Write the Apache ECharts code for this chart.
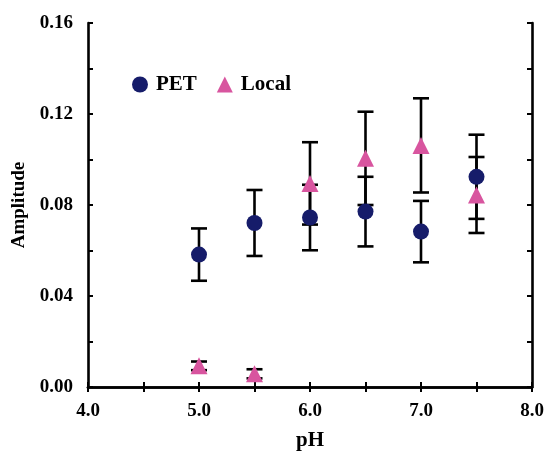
<!DOCTYPE html>
<html>
<head>
<meta charset="utf-8">
<script src="https://cdn.jsdelivr.net/npm/echarts@6/dist/echarts.min.js"></script>
<style>html,body{margin:0;padding:0;background:#fff}#c{width:548px;height:452px}</style>
</head>
<body>
<div id="c"></div>
<script>
var ph = [5.0, 5.5, 6.0, 6.5, 7.0, 7.5];
var petMean = [0.0582, 0.0721, 0.0745, 0.0771, 0.0683, 0.0924];
var petErr = [0.0115, 0.0145, 0.0144, 0.0153, 0.0135, 0.0185];
var localMean = [0.0093, 0.0058, 0.0895, 0.1005, 0.1062, 0.0844];
var localErr = [0.0019, 0.0020, 0.0181, 0.0205, 0.0207, 0.0167];
var xTicks = ['4.0', '5.0', '6.0', '7.0', '8.0'];
var yTicks = ['0.00', '0.04', '0.08', '0.12', '0.16'];

var FONT = '"Liberation Serif", "DejaVu Serif", serif';
var NAVY = '#161c6a';
var PINK = '#d8559f';

function errData(mean, err) {
  return ph.map(function (x, i) { return [x, mean[i] - err[i], mean[i] + err[i]]; });
}
function renderErr(params, api) {
  var x = api.value(0);
  var lo = api.coord([x, api.value(1)]);
  var hi = api.coord([x, api.value(2)]);
  var hw = 8;
  var st = { stroke: '#000', lineWidth: 2.6, fill: null };
  return {
    type: 'group',
    children: [
      { type: 'line', shape: { x1: lo[0], y1: lo[1], x2: hi[0], y2: hi[1] }, style: st },
      { type: 'line', shape: { x1: lo[0] - hw, y1: lo[1], x2: lo[0] + hw, y2: lo[1] }, style: st },
      { type: 'line', shape: { x1: hi[0] - hw, y1: hi[1], x2: hi[0] + hw, y2: hi[1] }, style: st }
    ]
  };
}
function pts(mean) { return ph.map(function (x, i) { return [x, mean[i]]; }); }

var xLabelFmt = function (v) {
  var s = v.toFixed(1);
  return xTicks.indexOf(s) >= 0 ? '{a|' + s + '}' : '';
};
var yLabelFmt = function (v) {
  var s = v.toFixed(2);
  return yTicks.indexOf(s) >= 0 ? '{a|' + s + '}' : '';
};
var richLbl = { a: { fontFamily: FONT, fontWeight: 'bold', fontSize: 19, color: '#000' } };

var axisLineStyle = { show: true, lineStyle: { color: '#000', width: 2.6 } };
var tickStyle = { show: true, inside: true, length: 5, lineStyle: { color: '#000', width: 2 } };

var chart = echarts.init(document.getElementById('c'), null, { renderer: 'canvas' });
chart.setOption({
  animation: false,
  backgroundColor: '#fff',
  grid: { left: 88, right: 16, top: 23, bottom: 65, outerBoundsMode: 'none', containLabel: false },
  legend: {
    left: 127, top: 69,
    itemWidth: 16, itemHeight: 16, itemGap: 20,
    textStyle: { fontFamily: FONT, fontWeight: 'bold', fontSize: 21, color: '#000', padding: [0, 0, 0, 3] },
    data: [
      { name: 'PET', icon: 'circle' },
      { name: 'Local', icon: 'triangle' }
    ]
  },
  xAxis: [
    {
      type: 'value', min: 4, max: 8, interval: 0.5, position: 'bottom',
      name: 'pH', nameLocation: 'middle', nameGap: 43,
      nameTextStyle: { fontFamily: FONT, fontWeight: 'bold', fontSize: 21, color: '#000' },
      axisLine: axisLineStyle, axisTick: tickStyle,
      axisLabel: { margin: 15, formatter: xLabelFmt, rich: richLbl, showMaxLabel: true, showMinLabel: true, fontSize: 19, fontWeight: 'bold', fontFamily: FONT, color: '#000' },
      splitLine: { show: false }
    },
    {
      type: 'value', min: 4, max: 8, interval: 0.5, position: 'top',
      axisLine: axisLineStyle, axisTick: tickStyle, axisLabel: { show: false }, splitLine: { show: false }
    }
  ],
  yAxis: [
    {
      type: 'value', min: 0, max: 0.16, interval: 0.02, position: 'left',
      name: 'Amplitude', nameLocation: 'middle', nameGap: 59, nameRotate: 90,
      nameTextStyle: { fontFamily: FONT, fontWeight: 'bold', fontSize: 19, color: '#000' },
      axisLine: axisLineStyle, axisTick: tickStyle,
      axisLabel: { margin: 15, formatter: yLabelFmt, rich: richLbl, fontSize: 19, fontWeight: 'bold', fontFamily: FONT, color: '#000' },
      splitLine: { show: false }
    },
    {
      type: 'value', min: 0, max: 0.16, interval: 0.02, position: 'right',
      axisLine: axisLineStyle, axisTick: tickStyle, axisLabel: { show: false }, splitLine: { show: false }
    }
  ],
  series: [
    { type: 'custom', name: 'petErr', renderItem: renderErr, data: errData(petMean, petErr), z: 2, encode: { x: 0, y: [1, 2] }, silent: true },
    { type: 'custom', name: 'localErr', renderItem: renderErr, data: errData(localMean, localErr), z: 2, encode: { x: 0, y: [1, 2] }, silent: true },
    { type: 'scatter', name: 'PET', data: pts(petMean), symbol: 'circle', symbolSize: 16, itemStyle: { color: NAVY, opacity: 1 }, z: 5 },
    { type: 'scatter', name: 'Local', data: pts(localMean), symbol: 'triangle', symbolSize: 17, itemStyle: { color: PINK, opacity: 1 }, z: 6 }
  ]
});
</script>
</body>
</html>
